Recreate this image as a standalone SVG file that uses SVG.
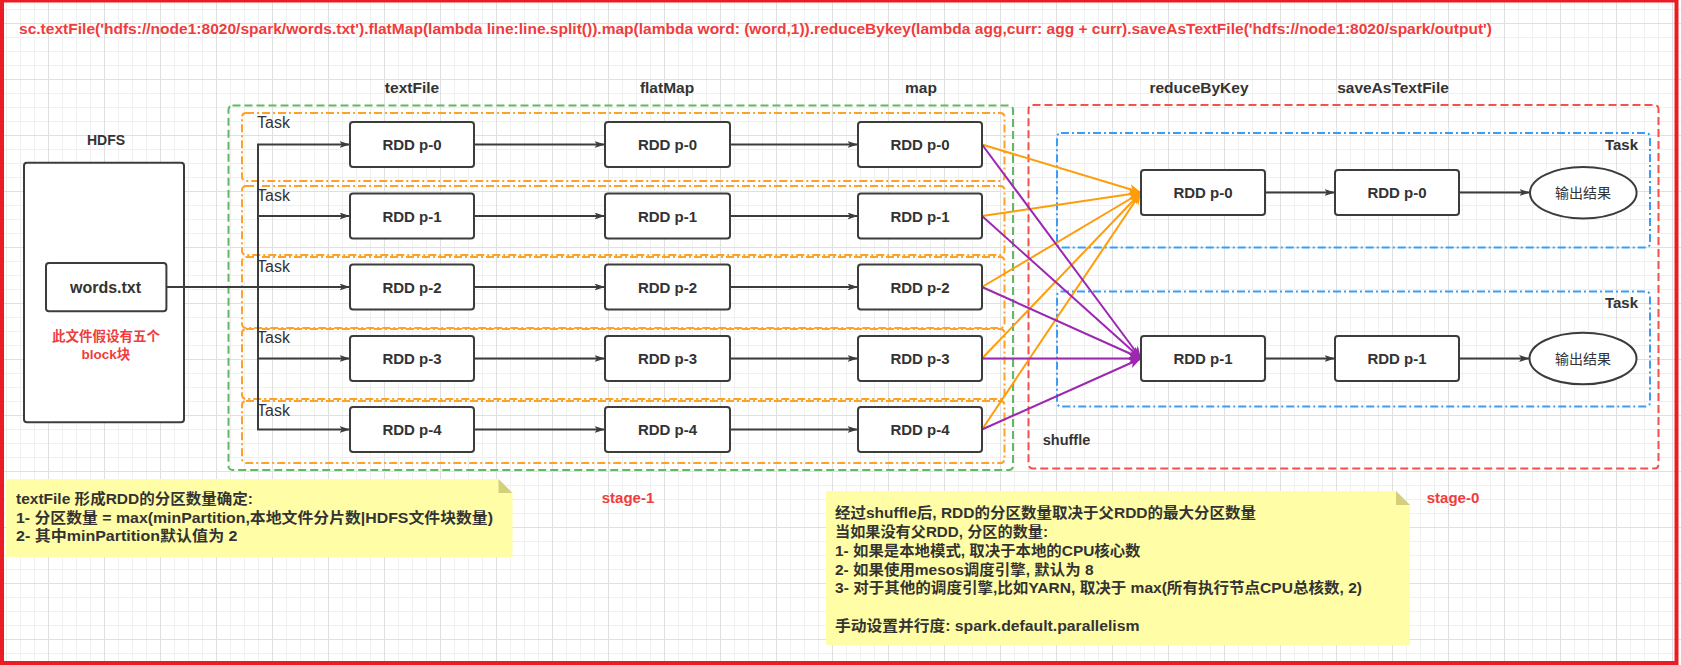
<svg xmlns="http://www.w3.org/2000/svg" width="1681" height="665" viewBox="0 0 1681 665">
<style>
text{font-family:'Liberation Sans','Noto Sans CJK SC',sans-serif;fill:#333;dominant-baseline:central}
.b{font-weight:bold}
.c{text-anchor:middle}
.e{text-anchor:end}
.red{fill:#f03c3c}
.box{fill:#fff;stroke:#3c3c3c;stroke-width:2}
.rdd{font-size:15px;font-weight:bold;text-anchor:middle}
.lbl{font-size:15.5px;font-weight:bold;text-anchor:middle}
.task{font-size:16px}
.btask{font-size:15px;font-weight:bold;text-anchor:end}
.note{fill:#fffea6}
.fold{fill:#d3cf7c}
.nt{font-size:14.5px;font-weight:bold}
.ln{fill:none;stroke:#3c3c3c;stroke-width:2;marker-end:url(#arr)}
.or{fill:none;stroke:#ff9c0a;stroke-width:2;marker-end:url(#arrO)}
.pu{fill:none;stroke:#9c27b0;stroke-width:2;marker-end:url(#arrP)}
.otask{fill:none;stroke:#ffa028;stroke-width:2;stroke-dasharray:8 3 2 3}
.btbox{fill:none;stroke:#3a9df5;stroke-width:2;stroke-dasharray:8 3 2 3}
</style>
<defs>
<pattern id="grid" patternUnits="userSpaceOnUse" x="48" y="23" width="56" height="56">
<path d="M14.5,0V56M28.5,0V56M42.5,0V56M0,14.5H56M0,28.5H56M0,42.5H56" stroke="#f0f0f0" stroke-width="1"/>
<path d="M0.5,0V56M0,0.5H56" stroke="#e0e0e0" stroke-width="1"/>
</pattern>
<marker id="arr" markerUnits="userSpaceOnUse" markerWidth="12" markerHeight="8" refX="10.5" refY="3.5" orient="auto"><path d="M0,0 L10.5,3.5 L0,7 L2.5,3.5 Z" fill="#3c3c3c"/></marker>
<marker id="arrO" markerUnits="userSpaceOnUse" markerWidth="13" markerHeight="11" refX="12" refY="5" orient="auto"><path d="M0,0 L12,5 L0,10 L3,5 Z" fill="#ff9c0a"/></marker>
<marker id="arrP" markerUnits="userSpaceOnUse" markerWidth="13" markerHeight="11" refX="12" refY="5" orient="auto"><path d="M0,0 L12,5 L0,10 L3,5 Z" fill="#9c27b0"/></marker>
</defs>
<rect x="0" y="0" width="1681" height="665" fill="#fff"/>
<rect x="0" y="0" width="1681" height="665" fill="url(#grid)"/>
<rect x="2" y="0.5" width="1674.5" height="662.5" fill="none" stroke="#ec1c24" stroke-width="4"/>

<text class="b red" x="19" y="28.5" font-size="14.5" textLength="1473" lengthAdjust="spacingAndGlyphs">sc.textFile('hdfs://node1:8020/spark/words.txt').flatMap(lambda line:line.split()).map(lambda word: (word,1)).reduceBykey(lambda agg,curr: agg + curr).saveAsTextFile('hdfs://node1:8020/spark/output')</text>

<g id="labels">
<text class="lbl" x="412" y="87">textFile</text>
<text class="lbl" x="667" y="87">flatMap</text>
<text class="lbl" x="921" y="87">map</text>
<text class="lbl" x="1199" y="87">reduceByKey</text>
<text class="lbl" x="1393" y="87">saveAsTextFile</text>
</g>

<g id="stage1">
<rect x="228.5" y="105.5" width="784.5" height="364.5" rx="4" fill="none" stroke="#60b860" stroke-width="2" stroke-dasharray="8 4"/>
<text class="b c red" x="628" y="497.5" font-size="15">stage-1</text>
</g>
<g id="stage0">
<rect x="1028.5" y="105" width="630" height="363.5" rx="4" fill="none" stroke="#f2514c" stroke-width="2" stroke-dasharray="8 4"/>
<text class="b c red" x="1453" y="497.5" font-size="15">stage-0</text>
<text class="b c" x="1066.5" y="440" font-size="14.5">shuffle</text>
</g>

<g id="tasks">
<rect class="otask" x="242" y="113" width="762.5" height="68" rx="4"/>
<rect class="otask" x="242" y="186" width="762.5" height="69" rx="4"/>
<rect class="otask" x="242" y="257" width="762.5" height="71" rx="4"/>
<rect class="otask" x="242" y="329" width="762.5" height="70" rx="4"/>
<rect class="otask" x="242" y="401" width="762.5" height="62" rx="4"/>
<text class="task" x="257" y="122.5">Task</text>
<text class="task" x="257" y="195.5">Task</text>
<text class="task" x="257" y="266">Task</text>
<text class="task" x="257" y="337.5">Task</text>
<text class="task" x="257" y="410">Task</text>
<rect class="btbox" x="1057" y="133" width="593" height="114.5" rx="4"/>
<rect class="btbox" x="1057" y="291.5" width="593" height="115" rx="4"/>
<text class="btask" x="1638" y="144">Task</text>
<text class="btask" x="1638" y="302.5">Task</text>
</g>

<g id="hdfs">
<text class="b c" x="106" y="140" font-size="14">HDFS</text>
<rect class="box" x="24" y="162.7" width="160" height="259.6" rx="3"/>
</g>
<g id="words">
<rect class="box" x="46" y="263" width="120.4" height="48.3" rx="3"/>
<text class="b c" x="105.5" y="287" font-size="16">words.txt</text>
<text class="b c red" x="106" y="336.5" font-size="13.5">此文件假设有五个</text>
<text class="b c red" x="106" y="354" font-size="13.5">block块</text>
</g>

<g id="connectors">
<path class="ln" d="M166.4,287 H258 V144.5 H350"/>
<path class="ln" d="M166.4,287 H258 V216 H350"/>
<path class="ln" d="M166.4,287 H350"/>
<path class="ln" d="M166.4,287 H258 V358.5 H350"/>
<path class="ln" d="M166.4,287 H258 V429.5 H350"/>
<path class="ln" d="M474,144.5 H605"/>
<path class="ln" d="M474,216 H605"/>
<path class="ln" d="M474,287 H605"/>
<path class="ln" d="M474,358.5 H605"/>
<path class="ln" d="M474,429.5 H605"/>
<path class="ln" d="M730,144.5 H858"/>
<path class="ln" d="M730,216 H858"/>
<path class="ln" d="M730,287 H858"/>
<path class="ln" d="M730,358.5 H858"/>
<path class="ln" d="M730,429.5 H858"/>
<path class="or" d="M982,144.5 L1141,192.5"/>
<path class="or" d="M982,216 L1141,192.5"/>
<path class="or" d="M982,287 L1141,192.5"/>
<path class="or" d="M982,358.5 L1141,192.5"/>
<path class="or" d="M982,429.5 L1141,192.5"/>
<path class="pu" d="M982,144.5 L1141,358.5"/>
<path class="pu" d="M982,216 L1141,358.5"/>
<path class="pu" d="M982,287 L1141,358.5"/>
<path class="pu" d="M982,358.5 L1141,358.5"/>
<path class="pu" d="M982,429.5 L1141,358.5"/>
<path class="ln" d="M1265,192.5 H1335"/>
<path class="ln" d="M1265,358.5 H1335"/>
<path class="ln" d="M1459,192.5 H1530"/>
<path class="ln" d="M1459,358.5 H1529.5"/>
</g>

<g id="textFile-rdds">
<rect class="box" x="350" y="122" width="124" height="45" rx="3"/><text class="rdd" x="412" y="144.5">RDD p-0</text>
<rect class="box" x="350" y="193.5" width="124" height="45" rx="3"/><text class="rdd" x="412" y="216">RDD p-1</text>
<rect class="box" x="350" y="264.5" width="124" height="45" rx="3"/><text class="rdd" x="412" y="287">RDD p-2</text>
<rect class="box" x="350" y="336" width="124" height="45" rx="3"/><text class="rdd" x="412" y="358.5">RDD p-3</text>
<rect class="box" x="350" y="407" width="124" height="45" rx="3"/><text class="rdd" x="412" y="429.5">RDD p-4</text>
</g>
<g id="flatMap-rdds">
<rect class="box" x="605" y="122" width="125" height="45" rx="3"/><text class="rdd" x="667.5" y="144.5">RDD p-0</text>
<rect class="box" x="605" y="193.5" width="125" height="45" rx="3"/><text class="rdd" x="667.5" y="216">RDD p-1</text>
<rect class="box" x="605" y="264.5" width="125" height="45" rx="3"/><text class="rdd" x="667.5" y="287">RDD p-2</text>
<rect class="box" x="605" y="336" width="125" height="45" rx="3"/><text class="rdd" x="667.5" y="358.5">RDD p-3</text>
<rect class="box" x="605" y="407" width="125" height="45" rx="3"/><text class="rdd" x="667.5" y="429.5">RDD p-4</text>
</g>
<g id="map-rdds">
<rect class="box" x="858" y="122" width="124" height="45" rx="3"/><text class="rdd" x="920" y="144.5">RDD p-0</text>
<rect class="box" x="858" y="193.5" width="124" height="45" rx="3"/><text class="rdd" x="920" y="216">RDD p-1</text>
<rect class="box" x="858" y="264.5" width="124" height="45" rx="3"/><text class="rdd" x="920" y="287">RDD p-2</text>
<rect class="box" x="858" y="336" width="124" height="45" rx="3"/><text class="rdd" x="920" y="358.5">RDD p-3</text>
<rect class="box" x="858" y="407" width="124" height="45" rx="3"/><text class="rdd" x="920" y="429.5">RDD p-4</text>
</g>
<g id="reduce-rdds">
<rect class="box" x="1141" y="170" width="124" height="45" rx="3"/><text class="rdd" x="1203" y="192.5">RDD p-0</text>
<rect class="box" x="1141" y="336" width="124" height="45" rx="3"/><text class="rdd" x="1203" y="358.5">RDD p-1</text>
</g>
<g id="save-rdds">
<rect class="box" x="1335" y="170" width="124" height="45" rx="3"/><text class="rdd" x="1397" y="192.5">RDD p-0</text>
<rect class="box" x="1335" y="336" width="124" height="45" rx="3"/><text class="rdd" x="1397" y="358.5">RDD p-1</text>
</g>
<g id="outputs">
<ellipse class="box" cx="1583.3" cy="192.7" rx="53.3" ry="25.7"/><text class="c" x="1583" y="192.7" font-size="14">输出结果</text>
<ellipse class="box" cx="1583" cy="358.5" rx="53.5" ry="25.8"/><text class="c" x="1583" y="358.5" font-size="14">输出结果</text>
</g>

<g id="note1">
<path class="note" d="M6,479 H498.5 L512.5,493 V557 H6 Z"/>
<path class="fold" d="M498.5,479 V493 H512.5 Z"/>
<text class="nt" x="16" y="499.3" textLength="237" lengthAdjust="spacingAndGlyphs">textFile 形成RDD的分区数量确定:</text>
<text class="nt" x="16" y="517.5" textLength="477" lengthAdjust="spacingAndGlyphs">1- 分区数量 = max(minPartition,本地文件分片数|HDFS文件块数量)</text>
<text class="nt" x="16" y="536" textLength="221.5" lengthAdjust="spacingAndGlyphs">2- 其中minPartition默认值为 2</text>
</g>
<g id="note2">
<path class="note" d="M826,491 H1396 L1410,505 V645 H826 Z"/>
<path class="fold" d="M1396,491 V505 H1410 Z"/>
<text class="nt" x="835" y="512.7" textLength="421" lengthAdjust="spacingAndGlyphs">经过shuffle后, RDD的分区数量取决于父RDD的最大分区数量</text>
<text class="nt" x="835" y="531.7" textLength="213" lengthAdjust="spacingAndGlyphs">当如果没有父RDD, 分区的数量:</text>
<text class="nt" x="835" y="550.7" textLength="305.5" lengthAdjust="spacingAndGlyphs">1- 如果是本地模式, 取决于本地的CPU核心数</text>
<text class="nt" x="835" y="569.5" textLength="258.5" lengthAdjust="spacingAndGlyphs">2- 如果使用mesos调度引擎, 默认为 8</text>
<text class="nt" x="835" y="588.3" textLength="527" lengthAdjust="spacingAndGlyphs">3- 对于其他的调度引擎,比如YARN, 取决于 max(所有执行节点CPU总核数, 2)</text>
<text class="nt" x="835" y="626" textLength="304.5" lengthAdjust="spacingAndGlyphs">手动设置并行度: spark.default.parallelism</text>
</g>
</svg>
